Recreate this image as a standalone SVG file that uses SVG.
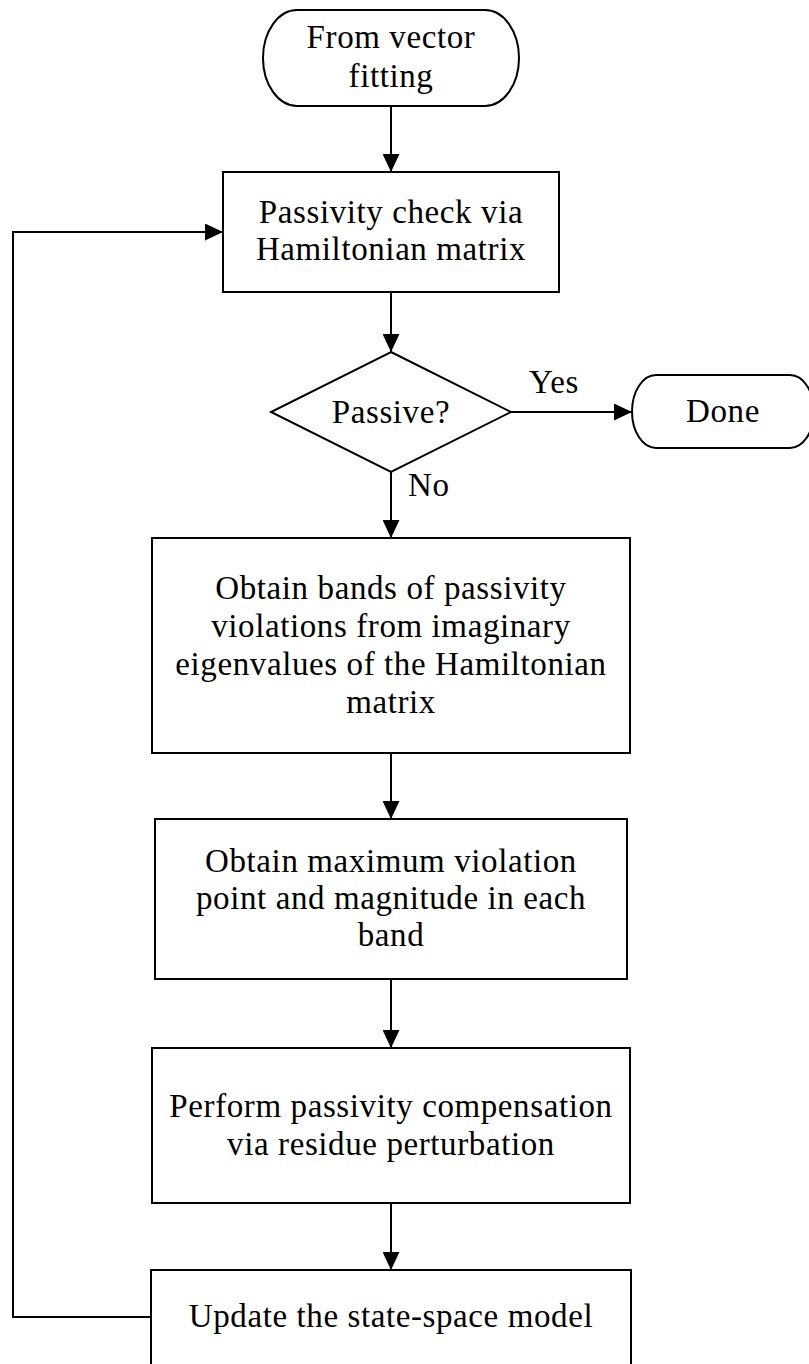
<svg xmlns="http://www.w3.org/2000/svg" width="809" height="1364" viewBox="0 0 809 1364">
<style>
.s{fill:#fff;stroke:#000;stroke-width:2}
.c{fill:none;stroke:#000;stroke-width:2}
text{font-family:"Liberation Serif","Times New Roman",serif;font-size:33px;letter-spacing:0.6px;fill:#000;text-anchor:middle}
.l{text-anchor:start}
</style>
<defs>
<marker id="a" markerUnits="userSpaceOnUse" markerWidth="18" markerHeight="17" refX="18" refY="8.5" orient="auto">
<path d="M0,0 L18,8.5 L0,17 Z" fill="#000"/>
</marker>
</defs>
<rect width="809" height="1364" fill="#fff"/>
<g id="connectors">
<line class="c" x1="391" y1="106" x2="391" y2="172" marker-end="url(#a)"/>
<line class="c" x1="391" y1="292" x2="391" y2="352" marker-end="url(#a)"/>
<line class="c" x1="511" y1="412" x2="632" y2="412" marker-end="url(#a)"/>
<line class="c" x1="391" y1="472" x2="391" y2="538" marker-end="url(#a)"/>
<line class="c" x1="391" y1="753" x2="391" y2="819" marker-end="url(#a)"/>
<line class="c" x1="391" y1="979" x2="391" y2="1048" marker-end="url(#a)"/>
<line class="c" x1="391" y1="1203" x2="391" y2="1270" marker-end="url(#a)"/>
<polyline class="c" points="151,1317 13,1317 13,232 223,232" marker-end="url(#a)"/>
<text x="554" y="393">Yes</text>
<text class="l" x="408" y="496">No</text>
</g>
<g id="start">
<rect class="s" x="263" y="10" width="256" height="96" rx="34" ry="48"/>
<text x="391" y="48">From vector</text>
<text x="391" y="87">fitting</text>
</g>
<g id="check">
<rect class="s" x="223" y="172" width="336" height="120"/>
<text x="391" y="223">Passivity check via</text>
<text x="391" y="260">Hamiltonian matrix</text>
</g>
<g id="decision">
<polygon class="s" points="391,352 511,412 391,472 271,412"/>
<text x="391" y="423">Passive?</text>
</g>
<g id="done">
<rect class="s" x="632" y="375" width="182" height="73" rx="24" ry="36.5"/>
<text x="723" y="422">Done</text>
</g>
<g id="bands">
<rect class="s" x="152" y="538" width="478" height="215"/>
<text x="391" y="599">Obtain bands of passivity</text>
<text x="391" y="637">violations from imaginary</text>
<text x="391" y="675">eigenvalues of the Hamiltonian</text>
<text x="391" y="713">matrix</text>
</g>
<g id="maxviol">
<rect class="s" x="155" y="819" width="472" height="160"/>
<text x="391" y="872">Obtain maximum violation</text>
<text x="391" y="909">point and magnitude in each</text>
<text x="391" y="946">band</text>
</g>
<g id="compensation">
<rect class="s" x="152" y="1048" width="478" height="155"/>
<text x="391" y="1117">Perform passivity compensation</text>
<text x="391" y="1155">via residue perturbation</text>
</g>
<g id="update">
<rect class="s" x="151" y="1270" width="480" height="100"/>
<text x="391" y="1327">Update the state-space model</text>
</g>
</svg>
